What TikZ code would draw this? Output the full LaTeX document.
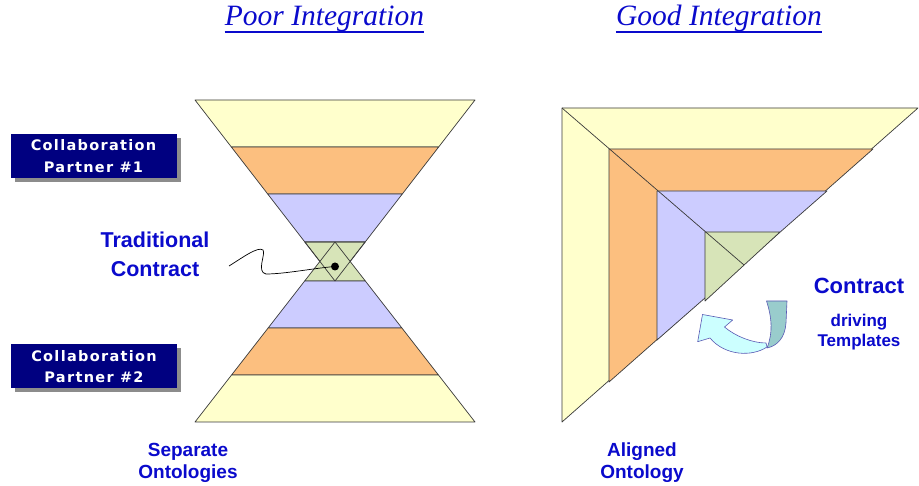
\documentclass[tikz,border=0pt]{standalone}
\usepackage{fontspec}
\setmainfont{Liberation Serif}
\newfontfamily\arialf{Liberation Sans}
\newfontfamily\dejals{DejaVu Sans}[LetterSpace=9]
\usetikzlibrary{calc,shadows}
\definecolor{cyel}{HTML}{FFFFCC}
\definecolor{corg}{HTML}{FCBF7F}
\definecolor{cpur}{HTML}{CCCCFF}
\definecolor{cgrn}{HTML}{D7E4B8}
\definecolor{tblue}{HTML}{0A0ACC}
\definecolor{navyb}{HTML}{000080}
\definecolor{edgec}{HTML}{3A3A3A}
\definecolor{acyan}{HTML}{CCFFFF}
\definecolor{ateal}{HTML}{99CCCC}
\definecolor{aline}{HTML}{5A5AB4}
\tikzset{
  band/.style={draw=edgec, line width=0.7pt, line join=round},
  title/.style={text=tblue, inner sep=0pt, anchor=base, font=\fontsize{29.5}{34}\selectfont\itshape},
  uline/.style={draw=tblue, line width=2pt},
  partner/.style={fill=navyb, text=white, minimum width=166pt, minimum height=44pt, inner sep=0pt,
     align=center, font=\fontsize{14.5}{21.6}\selectfont\dejals\bfseries,
     drop shadow={shadow xshift=4pt, shadow yshift=-4pt, fill=black!45, opacity=1}},
  bluelbl/.style={text=tblue, align=center, inner sep=0pt},
  ribbon/.style={draw=aline, line width=0.6pt, line join=round}
}
\begin{document}
\begin{tikzpicture}[x=1pt,y=-1pt]
\useasboundingbox (0,0) rectangle (919,486);
\fill[white] (0,0) rectangle (919,486);

% titles
\node[title] (t1) at (324.5,26) {Poor Integration};
\node[title] (t2) at (719,26) {Good Integration};
\draw[uline] ([yshift=-6pt]t1.base west) -- ([yshift=-6pt]t1.base east);
\draw[uline] ([yshift=-6pt]t2.base west) -- ([yshift=-6pt]t2.base east);

% hourglass: upper inverted triangle
\coordinate (U1) at (195,100);
\coordinate (U2) at (475,100);
\coordinate (Ua) at (335,281);
\coordinate (U1a) at ($(U1)!0.2597!(Ua)$);
\coordinate (U2a) at ($(U2)!0.2597!(Ua)$);
\coordinate (U1b) at ($(U1)!0.5193!(Ua)$);
\coordinate (U2b) at ($(U2)!0.5193!(Ua)$);
\coordinate (U1c) at ($(U1)!0.7845!(Ua)$);
\coordinate (U2c) at ($(U2)!0.7845!(Ua)$);
\filldraw[band, fill=cyel] (U1) -- (U2) -- (U2a) -- (U1a) -- cycle;
\filldraw[band, fill=corg] (U1a) -- (U2a) -- (U2b) -- (U1b) -- cycle;
\filldraw[band, fill=cpur] (U1b) -- (U2b) -- (U2c) -- (U1c) -- cycle;
\filldraw[band, fill=cgrn] (U1c) -- (U2c) -- (Ua) -- cycle;

% lower triangle
\coordinate (La) at (335,242);
\coordinate (L1) at (195,422);
\coordinate (L2) at (475,422);
\coordinate (L1a) at ($(La)!0.2167!(L1)$);
\coordinate (L2a) at ($(La)!0.2167!(L2)$);
\coordinate (L1b) at ($(La)!0.4778!(L1)$);
\coordinate (L2b) at ($(La)!0.4778!(L2)$);
\coordinate (L1c) at ($(La)!0.7389!(L1)$);
\coordinate (L2c) at ($(La)!0.7389!(L2)$);
\filldraw[band, fill=cgrn] (La) -- (L2a) -- (L1a) -- cycle;
\filldraw[band, fill=cpur] (L1a) -- (L2a) -- (L2b) -- (L1b) -- cycle;
\filldraw[band, fill=corg] (L1b) -- (L2b) -- (L2c) -- (L1c) -- cycle;
\filldraw[band, fill=cyel] (L1c) -- (L2c) -- (L2) -- (L1) -- cycle;
\draw[band] (U1c) -- (U2c) -- (Ua) -- cycle;

% partner boxes
\node[partner] (p1) at (93.5,156) {Collaboration\\Partner \#1};
\node[partner] (p2) at (94,366.5) {Collaboration\\Partner \#2};

% traditional contract
\node[bluelbl, font=\fontsize{21.5}{28.4}\selectfont\arialf\bfseries] (trad) at (155,254.5) {Traditional\\Contract};
\node[circle, fill=black, inner sep=0pt, minimum size=8pt] (dot) at (335,266.5) {};
\coordinate (cstart) at (229,266);
\draw[black, line width=0.7pt] (cstart) .. controls (242,258) and (258,246) .. (263,250)
   .. controls (266,254) and (256,272) .. (266,274)
   .. controls (285,274) and (315,268) .. (dot.center);

\node[bluelbl, font=\fontsize{19}{22}\selectfont\arialf\bfseries] (sep) at (188,463) {Separate\\Ontologies};

% right figure: nested right triangles
\filldraw[band, fill=cyel] (562,108) -- (918,108) -- (562,422) -- cycle;
\filldraw[band, fill=corg] (609,149) -- (873,149) -- (609,382) -- cycle;
\filldraw[band, fill=cpur] (657,191) -- (827,191) -- (657,340) -- cycle;
\filldraw[band, fill=cgrn] (705,232) -- (780,232) -- (705,301) -- cycle;
\draw[band] (562,108) -- (744,265);

% ribbon arrow
\filldraw[ribbon, fill=acyan] (702.5,314.5) -- (732.7,320) -- (724.5,327)
   .. controls (735,336) and (752,343) .. (766,343)
   -- (767,347) .. controls (752,357) and (725,356) .. (710,338)
   -- (697.7,341.7) -- cycle;
\filldraw[ribbon, fill=ateal] (766.5,301) -- (787,301) -- (786,323)
   .. controls (785,338) and (777,346) .. (767,348)
   .. controls (773,333) and (772,318) .. (766.5,301) -- cycle;

\node[bluelbl, anchor=base, font=\fontsize{22}{26}\selectfont\arialf\bfseries] (ctr) at (859,293.3) {Contract};
\node[bluelbl, font=\fontsize{17}{19.3}\selectfont\arialf\bfseries] (drv) at (859,332) {driving\\Templates};

\node[bluelbl, font=\fontsize{19}{22}\selectfont\arialf\bfseries] (ali) at (642,463) {Aligned\\Ontology};
\end{tikzpicture}
\end{document}
